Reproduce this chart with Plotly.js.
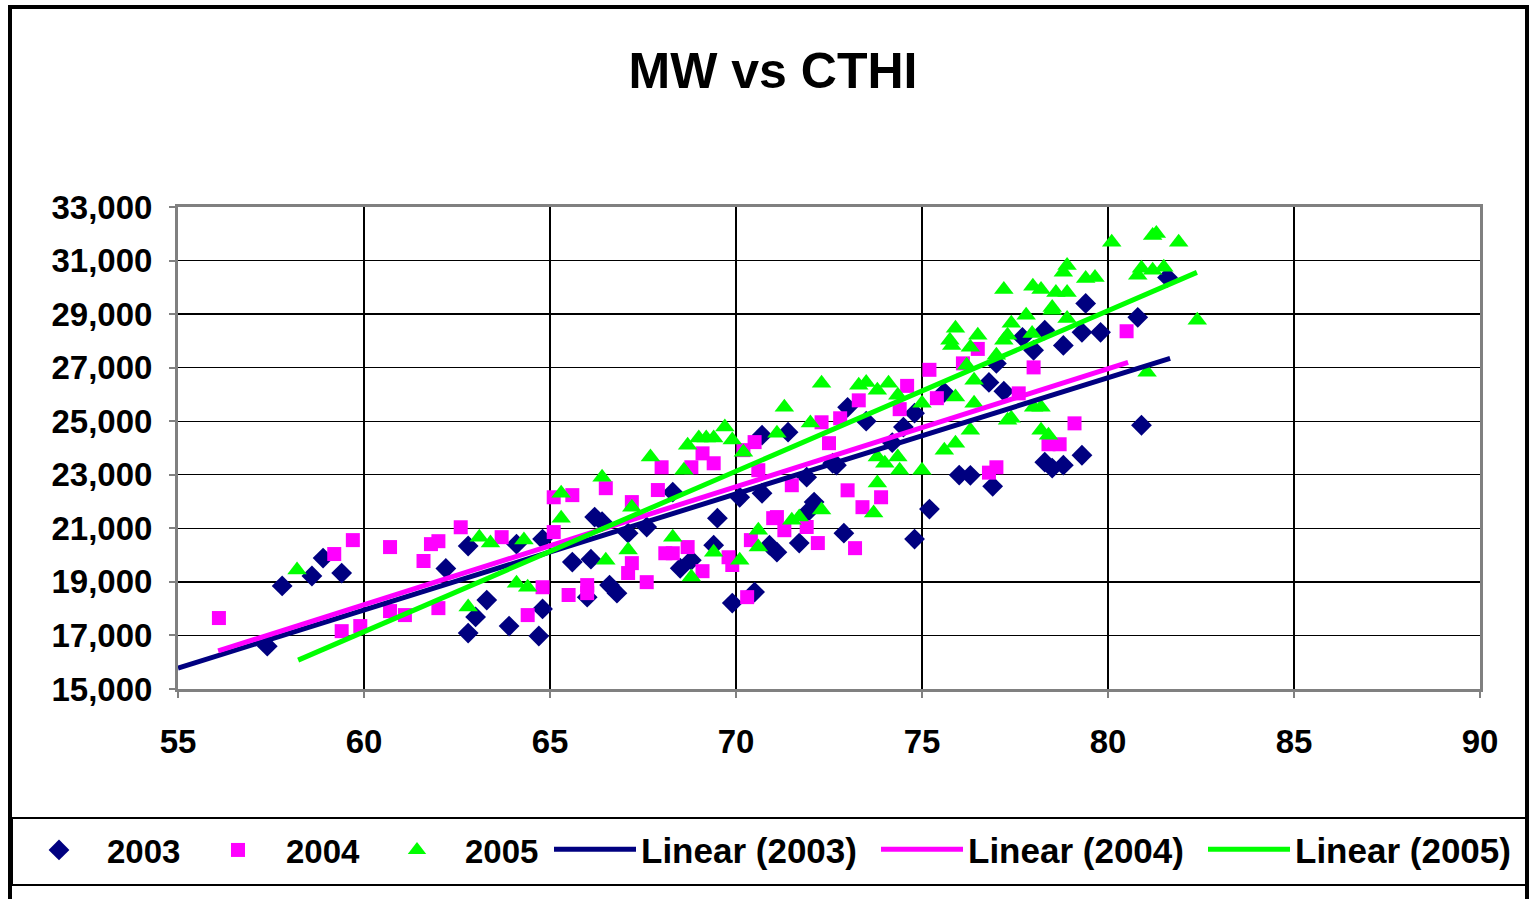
<!DOCTYPE html>
<html>
<head>
<meta charset="utf-8">
<script src="https://cdn.plot.ly/plotly-3.0.1.min.js"></script>
<style>html,body{margin:0;padding:0;background:#fff;}#chart{width:1532px;height:899px;}</style>
</head>
<body>
<div id="chart"></div>
<script>
// ---- data ----
const x2003 = [57.4,57.8,58.6,58.9,59.4,62.2,62.8,62.8,63.0,63.3,63.9,64.1,64.7,64.8,64.8,65.6,66.1,66.0,66.2,66.4,66.6,66.8,67.1,67.6,68.3,68.5,68.8,69.4,69.5,69.9,70.1,70.5,70.7,70.7,70.9,71.1,71.4,71.7,71.9,71.9,72.1,72.6,72.7,72.9,73.0,73.5,74.2,74.5,74.8,74.8,75.2,75.6,76.0,76.3,76.8,76.9,77.0,77.2,77.7,78.0,78.3,78.3,78.5,78.8,78.8,79.3,79.3,79.4,79.8,80.8,80.9,81.6];
const y2003 = [16600,18850,19220,19890,19330,19500,20340,17090,17690,18320,17350,20410,16980,20600,17990,19740,19850,18430,21420,21250,18880,18580,20820,21050,22350,19510,19810,20370,21380,18210,22160,18620,22310,24480,20370,20110,24590,20450,21570,22910,21980,23430,23360,20820,25520,25000,24200,24780,25300,20600,21720,26080,22990,22980,26450,22570,27160,26120,28130,27650,28400,23470,23250,27830,23360,28320,23730,29400,28320,28880,24850,30370];

const x2004 = [56.1,59.2,59.4,59.7,59.9,60.7,60.7,61.1,61.6,61.8,62.0,62.0,62.6,63.7,64.4,64.8,65.1,65.1,65.5,65.6,66.0,66.0,66.5,67.1,67.2,67.2,67.6,67.9,68.0,68.1,68.3,68.7,68.8,69.1,69.1,69.4,69.8,69.9,70.2,70.3,70.4,70.5,70.6,71.0,71.1,71.3,71.5,71.9,72.2,72.3,72.5,72.8,73.0,73.2,73.3,73.4,73.9,74.4,74.6,75.2,75.4,76.1,76.5,76.8,77.0,77.6,78.0,78.4,78.7,79.1,80.5];
const y2004 = [17650,20040,17160,20560,17350,20300,17910,17760,19780,20410,20520,18020,21040,20670,17760,18800,22160,20860,18510,22240,18880,18580,22500,19330,21980,19700,18990,22430,23280,20070,20070,20300,23280,19400,23800,23430,19920,19630,23920,18430,20560,24220,23170,21380,21420,20930,22610,21050,20450,24960,24180,25110,22420,20260,25780,21790,22160,25450,26320,26920,25860,27160,27700,23080,23280,26040,27010,24140,24140,24920,28360];

const x2005 = [58.2,62.8,63.1,63.4,64.1,64.4,64.3,65.3,65.3,66.4,66.5,67.1,67.2,67.7,68.3,68.6,68.7,68.8,69.0,69.2,69.4,69.4,69.7,69.9,70.1,70.2,70.6,70.6,71.1,71.3,71.5,71.7,72.0,72.3,72.3,73.3,73.5,73.7,73.8,73.8,73.8,74.0,74.1,74.35,74.35,74.4,75.0,75.0,75.6,75.75,75.8,75.9,75.9,75.9,76.2,76.3,76.3,76.4,76.4,76.5,77.0,77.2,77.2,77.3,77.3,77.4,77.4,77.8,77.96,77.98,78.0,78.2,78.2,78.2,78.4,78.5,78.5,78.6,78.8,78.9,78.9,78.9,79.4,79.65,80.1,80.8,80.9,81.05,81.2,81.2,81.3,81.5,81.9,82.4];
const y2005 = [19440,18060,20670,20450,18950,18800,20560,22310,21380,22910,19810,20190,21790,23660,20670,23170,24100,19180,24370,24370,24370,20110,24780,24300,19810,23840,20930,20300,24550,25520,21300,21420,24930,26420,21680,26340,26450,21570,26160,23660,22690,23430,26420,25970,23660,23170,25670,23170,23920,28020,27830,28470,25900,24180,27090,27760,24660,26530,25670,28210,27460,28020,29920,28210,25040,28660,25110,28960,28280,30040,25520,29920,25520,24660,24480,29140,29250,29810,30560,30820,29810,28840,30330,30370,31680,30450,30710,26830,31940,30640,32010,30750,31680,28770];

// trendline end points
const trendX2003 = [55.0, 81.67];
const trendY2003 = [15780, 27350];
const trendX2004 = [56.08, 80.54];
const trendY2004 = [16420, 27200];
const trendX2005 = [58.23, 82.39];
const trendY2005 = [16080, 30560];

const seriesNames = ["2003","2004","2005","Linear (2003)","Linear (2004)","Linear (2005)"];
const titleText = "MW vs CTHI";

// ---- styles ----
const NAVY = "#000080", MAG = "#FF00FF", GRN = "#00FF00";
const FONT = "Liberation Sans, Arial, sans-serif";

const traces = [
  {x:x2003, y:y2003, name:seriesNames[0], type:"scatter", mode:"markers", legend:"legend",
   marker:{symbol:"diamond", size:16, color:NAVY, line:{width:0}}},
  {x:x2004, y:y2004, name:seriesNames[1], type:"scatter", mode:"markers", legend:"legend",
   marker:{symbol:"square", size:14, color:MAG, line:{width:0}}},
  {x:x2005, y:y2005, name:seriesNames[2], type:"scatter", mode:"markers", legend:"legend",
   marker:{symbol:"triangle-up", size:17, color:GRN, line:{width:0}}},
  {x:trendX2003, y:trendY2003, name:seriesNames[3], type:"scatter", mode:"lines", legend:"legend2",
   line:{color:NAVY, width:5}},
  {x:trendX2004, y:trendY2004, name:seriesNames[4], type:"scatter", mode:"lines", legend:"legend2",
   line:{color:MAG, width:5}},
  {x:trendX2005, y:trendY2005, name:seriesNames[5], type:"scatter", mode:"lines", legend:"legend2",
   line:{color:GRN, width:5}}
];

const L = 178, R = 1480, T = 207, B = 689, W = 1532, H = 899;
const pw = R - L, ph = B - T;
const px = v => (v - L) / pw;
const py = v => (B - v) / ph;

const layout = {
  width: W, height: H,
  margin: {l: L, r: W - R, t: T, b: H - B, autoexpand: false},
  paper_bgcolor: "#fff", plot_bgcolor: "#fff",
  title: {text: titleText, font: {family: FONT, size: 50, weight: "bold", color: "#000"},
          x: 773 / W, xref: "container", xanchor: "center",
          y: 1 - 70 / H, yref: "container", yanchor: "middle"},
  xaxis: {range: [55, 90], dtick: 5, tick0: 55, showgrid: true, gridcolor: "#000", gridwidth: 1.3,
          zeroline: false, showline: true, linecolor: "#808080", linewidth: 3, mirror: true,
          ticks: "outside", ticklen: 6, tickcolor: "#808080", tickwidth: 2,
          ticklabelstandoff: 15, automargin: false,
          tickfont: {family: FONT, size: 33, weight: "bold", color: "#000"}},
  yaxis: {range: [15000, 33000], dtick: 2000, tick0: 15000, tickformat: ",d",
          showgrid: true, gridcolor: "#000", gridwidth: 1.3,
          zeroline: false, showline: true, linecolor: "#808080", linewidth: 3, mirror: true,
          ticks: "outside", ticklen: 6, tickcolor: "#808080", tickwidth: 2,
          ticklabelstandoff: 10, automargin: false,
          tickfont: {family: FONT, size: 33, weight: "bold", color: "#000"}},
  showlegend: true,
  legend: {orientation: "h", x: px(11), xanchor: "left",
           y: py(822), yanchor: "top", bgcolor: "rgba(0,0,0,0)", borderwidth: 0,
           itemwidth: 86, traceorder: "normal", entrywidthmode: "pixels", entrywidth: 78,
           font: {family: FONT, size: 33, weight: "bold", color: "#000"}},
  legend2: {orientation: "h", x: px(549), xanchor: "left",
           y: py(820), yanchor: "top", bgcolor: "rgba(0,0,0,0)", borderwidth: 0,
           itemwidth: 82, traceorder: "normal", entrywidthmode: "pixels", entrywidth: 230,
           font: {family: FONT, size: 35, weight: "bold", color: "#000"}},
  shapes: [
    {type: "rect", xref: "paper", yref: "paper", x0: px(10), x1: px(1527), y0: py(905), y1: py(7),
     line: {color: "#000", width: 4}, fillcolor: "rgba(0,0,0,0)", layer: "below"},
    {type: "rect", xref: "paper", yref: "paper", x0: px(12), x1: px(1526), y0: py(885), y1: py(818),
     line: {color: "#000", width: 2}, fillcolor: "rgba(0,0,0,0)", layer: "below"}
  ]
};

Plotly.newPlot("chart", traces, layout, {displayModeBar: false, staticPlot: true});
</script>
</body>
</html>
